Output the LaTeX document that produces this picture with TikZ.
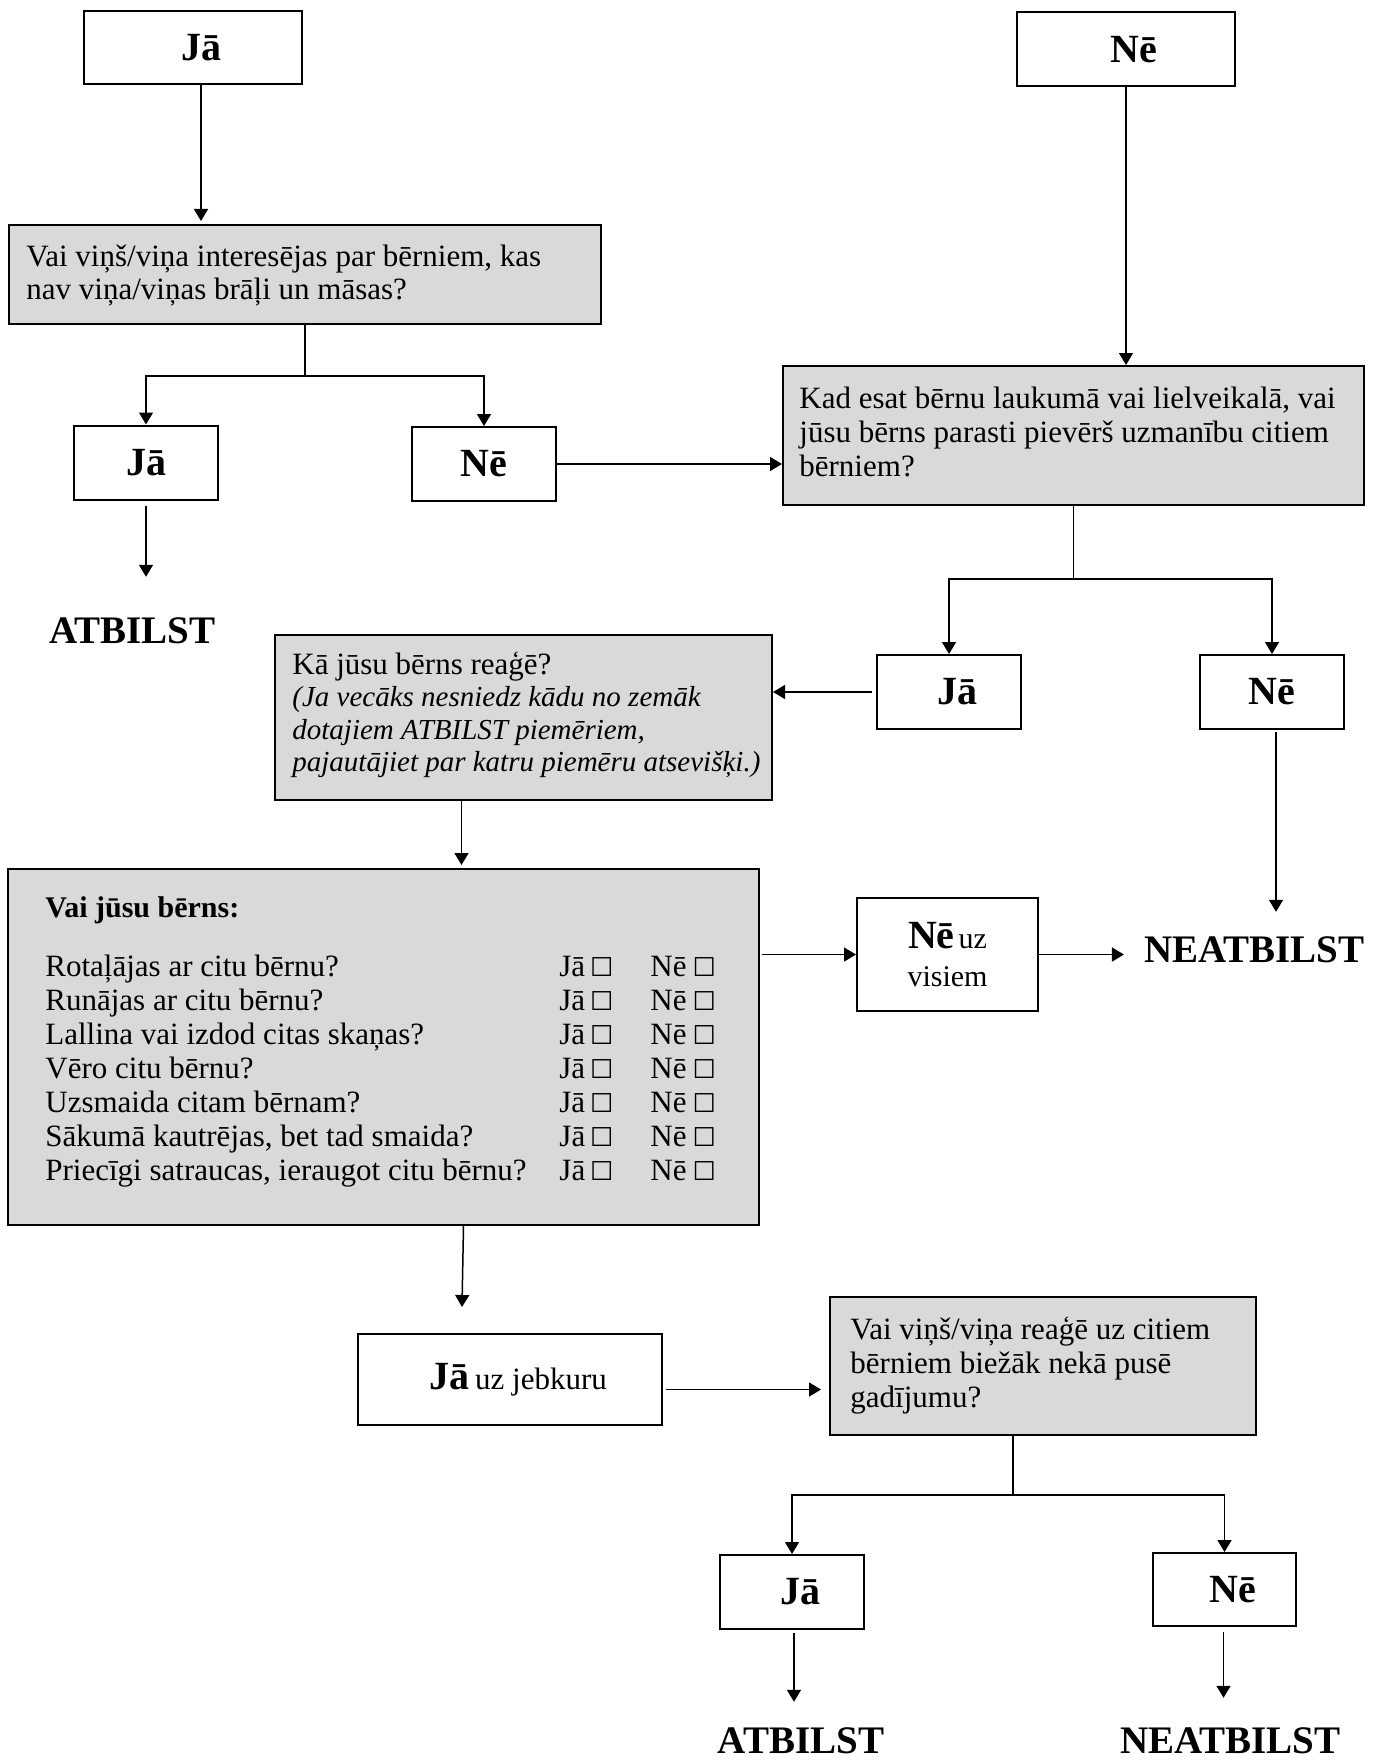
\documentclass[tikz,border=0pt]{standalone}
\usepackage{fontspec}
\setmainfont{Liberation Serif}
\newfontfamily\symfont{DejaVu Sans}
\usetikzlibrary{arrows.meta,calc}
\definecolor{qgray}{HTML}{D9D9D9}
\newcommand{\chk}{{\symfont\fontsize{13pt}{13pt}\selectfont ☐}}
\newcommand{\bodyfont}{\fontsize{15.5pt}{17pt}\selectfont}
\newcommand{\lblfont}{\bfseries\fontsize{20pt}{22pt}\selectfont}
\newcommand{\outfont}{\bfseries\fontsize{19.5pt}{22pt}\selectfont}
\newcommand{\rowitem}[1]{\makebox[257pt][l]{#1}\makebox[45.5pt][l]{Jā\hspace{2.5pt}\chk}Nē\hspace{3pt}\chk}
\newcommand{\rs}{\hspace*{8pt}}
\tikzset{
  box/.style={draw, line width=1pt, inner sep=0pt, align=center, fill=white},
  qbox/.style={box, fill=qgray},
  lbl/.style={box, font=\lblfont, minimum width=72pt, minimum height=37pt},
  txt/.style={anchor=base west, inner sep=0pt, text width=300pt, align=flush left, font=\bodyfont},
  rowtxt/.style={anchor=base west, inner sep=0pt, font=\bodyfont},
  outtxt/.style={anchor=base, inner sep=0pt, font=\outfont},
  ln/.style={line width=0.75pt},
  arr/.style={ln, -{Triangle[length=6pt,width=7pt]}}
}
\begin{document}
\begin{tikzpicture}[x=0.5pt,y=-0.5pt]
\path[use as bounding box, fill=white] (0,0) rectangle (1374,1760);

% boxes
\node[box, font=\lblfont, minimum width=109pt, minimum height=36.5pt] (ja1) at (193,47.5) {\rs Jā};
\node[box, font=\lblfont, minimum width=109pt, minimum height=37pt] (ne1) at (1126,49.5) {\rs Nē};
\node[qbox, minimum width=296pt, minimum height=49.5pt] (q1) at (305,274.5) {};
\node[lbl] (ja2) at (146,462.5) {Jā};
\node[lbl] (ne2) at (484,464) {Nē};
\node[qbox, minimum width=290.5pt, minimum height=69.5pt] (q2) at (1073.5,435.5) {};
\node[lbl] (ja3) at (949,692) {\rs Jā};
\node[lbl] (ne3) at (1272,692) {Nē};
\node[qbox, minimum width=248.5pt, minimum height=82.5pt] (q3) at (523.5,717.5) {};
\node[qbox, minimum width=375.5pt, minimum height=178pt] (big) at (383.5,1047) {};
\node[box, minimum width=90.5pt, minimum height=56.5pt, font=\fontsize{15pt}{18.75pt}\selectfont] (nuv) at (947.5,954.5)
  {{\lblfont Nē}\hspace{2pt}uz\\visiem};
\node[box, minimum width=152pt, minimum height=45.5pt, font=\fontsize{15.5pt}{18pt}\selectfont] (jauz) at (510,1379.5)
  {\rs{\lblfont Jā}\hspace{3pt}uz jebkuru};
\node[qbox, minimum width=213pt, minimum height=69pt] (q4) at (1043,1366) {};
\node[lbl] (ja4) at (792,1592) {\rs Jā};
\node[lbl, minimum width=71.5pt, minimum height=36.5pt] (ne4) at (1224.5,1589.5) {\rs Nē};

% texts in question boxes
\node[txt] (t1) at (26,266) {Vai viņš/viņa interesējas par bērniem, kas\\nav viņa/viņas brāļi un māsas?};
\node[txt] (t2) at (799,408) {Kad esat bērnu laukumā vai lielveikalā, vai\\jūsu bērns parasti pievērš uzmanību citiem\\bērniem?};
\node[txt, font=\fontsize{15.5pt}{16.3pt}\selectfont] (t3) at (292,674) {Kā jūsu bērns reaģē?\\{\fontsize{14.5pt}{16.3pt}\selectfont\itshape (Ja vecāks nesniedz kādu no zemāk\\dotajiem ATBILST piemēriem,\\pajautājiet par katru piemēru atsevišķi.)}};
\node[txt] (t4) at (850,1339) {Vai viņš/viņa reaģē uz citiem\\bērniem biežāk nekā pusē\\gadījumu?};

% checklist
\node[rowtxt, font=\bfseries\fontsize{15pt}{17pt}\selectfont] (hd) at (45,917) {Vai jūsu bērns:};
\node[rowtxt] (r1) at (45,976) {\rowitem{Rotaļājas ar citu bērnu?}};
\node[rowtxt] (r2) at (45,1010) {\rowitem{Runājas ar citu bērnu?}};
\node[rowtxt] (r3) at (45,1044) {\rowitem{Lallina vai izdod citas skaņas?}};
\node[rowtxt] (r4) at (45,1078) {\rowitem{Vēro citu bērnu?}};
\node[rowtxt] (r5) at (45,1112) {\rowitem{Uzsmaida citam bērnam?}};
\node[rowtxt] (r6) at (45,1146) {\rowitem{Sākumā kautrējas, bet tad smaida?}};
\node[rowtxt] (r7) at (45,1180) {\rowitem{Priecīgi satraucas, ieraugot citu bērnu?}};

% outcomes
\node[outtxt] (atb1) at (132.5,643) {ATBILST};
\node[outtxt] (neat1) at (1254.5,962) {NEATBILST};
\node[outtxt] (atb2) at (801,1753) {ATBILST};
\node[outtxt] (neat2) at (1230.5,1753) {NEATBILST};

% split points
\coordinate (s1) at (305,376);
\coordinate (s2) at (1073.5,579);
\coordinate (s4) at (1013,1495);

% connectors
\draw[arr, shorten >=1.5pt] ([xshift=4pt]ja1.south) -- ([xshift=4pt]ja1.south |- q1.north);
\draw[arr] (q1.south) -- (s1) -| (ja2.north);
\draw[arr] (s1) -| (ne2.north);
\draw[arr, shorten <=2.5pt, shorten >=20pt] (ja2.south) -- (ja2.south |- atb1.north);
\draw[arr] (ne2.east) -- (ne2.east -| q2.west);
\draw[arr] (ne1.south) -- (ne1.south |- q2.north);
\draw[ln] (q2.south) -- (s2);
\draw[arr] (s2) -| (ja3.north);
\draw[arr] (s2) -| (ne3.north);
\draw[arr, shorten <=2pt] (ja3.west) -- (ja3.west -| q3.east);
\draw[arr, shorten <=1pt, shorten >=12pt] ([xshift=2pt]ne3.south) -- ([xshift=2pt]ne3.south |- neat1.north);
\draw[arr, shorten >=1.5pt] ([xshift=-31pt]q3.south) -- ([xshift=-31pt]q3.south |- big.north);
\draw[arr, shorten <=1pt] (nuv.west -| big.east) -- (nuv.west);
\draw[arr, shorten >=10pt] (nuv.east) -- (nuv.east -| neat1.west);
\draw[arr, shorten >=13pt] ([xshift=40pt]big.south) -- ([xshift=39pt]big.south |- jauz.north);
\draw[arr, shorten <=1.5pt, shorten >=4pt] ([yshift=-5pt]jauz.east) -- ([yshift=-5pt]jauz.east -| q4.west);
\draw[ln] ([xshift=-15pt]q4.south) -- (s4);
\draw[arr] (s4) -| (ja4.north);
\draw[arr] (s4) -| (ne4.north);
\draw[arr, shorten <=1.5pt, shorten >=12.5pt] ([xshift=1pt]ja4.south) -- ([xshift=1pt]ja4.south |- atb2.north);
\draw[arr, shorten <=2.5pt, shorten >=14.5pt] ([xshift=-0.5pt]ne4.south) -- ([xshift=-0.5pt]ne4.south |- neat2.north);
\end{tikzpicture}
\end{document}
